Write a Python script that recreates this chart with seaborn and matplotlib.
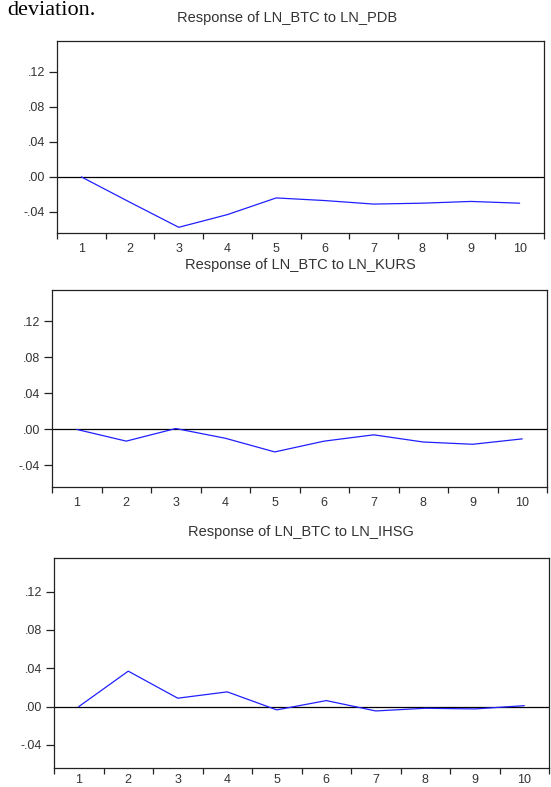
import seaborn as sns
import matplotlib.pyplot as plt
import numpy as np
import pandas as pd

# impulse responses of LN_BTC, periods 1..10
periods = list(range(1, 11))
resp_pdb = [0.0, -0.029, -0.0575, -0.043, -0.024, -0.027, -0.031, -0.030, -0.028, -0.030]
resp_kurs = [0.0, -0.013, 0.001, -0.0098, -0.025, -0.013, -0.006, -0.014, -0.0165, -0.0105]
resp_ihsg = [0.0, 0.037, 0.0088, 0.0154, -0.0034, 0.0063, -0.0045, -0.0017, -0.0024, 0.001]

titles = ["Response of LN_BTC to LN_PDB",
          "Response of LN_BTC to LN_KURS",
          "Response of LN_BTC to LN_IHSG"]
ytick_vals = [-0.04, 0.0, 0.04, 0.08, 0.12]
ytick_labels = ["-.04", ".00", ".04", ".08", ".12"]

sns.set_theme(style="ticks")
plt.rcParams['font.family'] = ['Liberation Sans', 'DejaVu Sans']

fig = plt.figure(figsize=(5.51, 7.87), dpi=100)
W, H = 551, 787

# panel boxes in pixels: left, top, right, bottom
boxes = [(57, 41, 544, 233), (52, 290, 547, 487), (54, 558, 549, 768)]
title_pos = [(287, 18), (300, 265), (301, 532)]
xpads = [7, 7, 4]
series = [resp_pdb, resp_kurs, resp_ihsg]

# text from the surrounding document, top-left
fig.text(7 / W, 1 - 15 / H, "deviation.", family=['Liberation Serif', 'DejaVu Serif'],
         fontsize=16, color='black', va='baseline', ha='left')

for box, tpos, xpad, vals, title in zip(boxes, title_pos, xpads, series, titles):
    l, t, r, b = box
    ax = fig.add_axes([l / W, 1 - b / H, (r - l) / W, (b - t) / H])
    df = pd.DataFrame({"period": periods, "response": vals})
    sns.lineplot(data=df, x="period", y="response", ax=ax, color="#2020ff", linewidth=0.9)
    ax.axhline(0, color="black", linewidth=0.9, zorder=1)
    ax.set_xlim(0.5, 10.5)
    ax.set_ylim(-0.064, 0.155)
    ax.set_xticks(periods)
    ax.set_xticklabels([str(p) for p in periods])
    ax.set_xticks(np.arange(0.5, 11, 1), minor=True)
    ax.tick_params(axis='x', which='major', length=0, pad=xpad, labelsize=9, labelcolor='#333333')
    ax.tick_params(axis='x', which='minor', length=4, width=0.9, color='#222222', direction='out')
    ax.set_yticks(ytick_vals)
    ax.set_yticklabels(ytick_labels)
    ax.tick_params(axis='y', length=5.5, width=0.9, pad=3, labelsize=9, labelcolor='#333333',
                   color='#222222', direction='out')
    ax.set_xlabel("")
    ax.set_ylabel("")
    for s in ax.spines.values():
        s.set_visible(True)
        s.set_color('#222222')
        s.set_linewidth(0.9)
    fig.text(tpos[0] / W, 1 - tpos[1] / H, title, ha='center', va='center',
             fontsize=10.5, color='#333333')

fig.savefig("out.png", dpi=100)
